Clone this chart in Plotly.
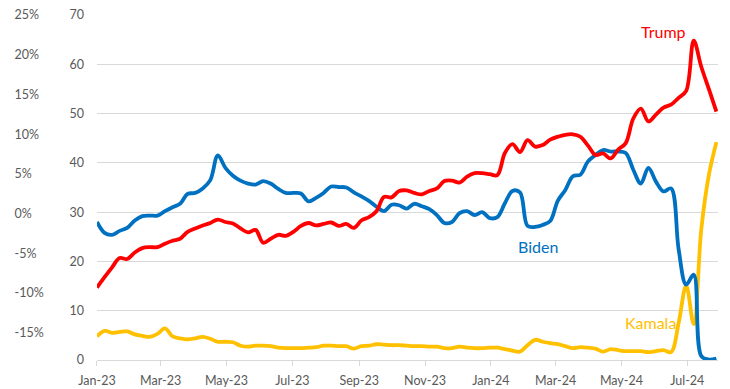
import pandas as pd
import plotly.graph_objects as go

# Weekly dates (Sundays) from Jan 2023 to late Jul 2024
dates = pd.date_range("2023-01-01", periods=83, freq="7D")

trump = [14.7, 16.8, 18.8, 20.7, 20.5, 21.8, 22.7, 22.9, 22.9, 23.6,
         24.2, 24.6, 26.0, 26.7, 27.3, 27.8, 28.5, 28.0, 27.7, 26.7,
         25.9, 26.4, 23.8, 24.6, 25.4, 25.2, 26.0, 27.2, 27.8, 27.3,
         27.6, 27.9, 27.2, 27.6, 26.8, 28.3, 29.0, 30.2, 33.1, 33.0,
         34.3, 34.4, 33.9, 33.6, 34.3, 34.8, 36.3, 36.4, 36.0, 37.2,
         37.9, 37.9, 37.7, 37.5, 42.0, 43.8, 42.2, 44.6, 43.3, 43.6,
         44.7, 45.3, 45.7, 45.8, 45.3, 43.5, 41.6, 41.9, 40.9, 42.7,
         44.0, 49.0, 51.0, 48.4, 49.8, 51.2, 51.8, 53.2, 54.6, 64.8,
         59.5, 55.0, 50.4]

biden = [28.0, 25.8, 25.4, 26.2, 26.8, 28.3, 29.2, 29.3, 29.3, 30.2,
         31.0, 31.7, 33.7, 33.9, 34.8, 36.5, 41.5, 39.0, 37.4, 36.4,
         35.8, 35.6, 36.3, 35.8, 34.7, 33.9, 33.9, 33.8, 32.2, 32.9,
         33.9, 35.2, 35.1, 35.0, 34.0, 33.2, 32.3, 31.1, 30.2, 31.5,
         31.4, 30.7, 31.7, 31.2, 30.6, 29.4, 27.8, 28.0, 29.8, 30.2,
         29.4, 30.0, 28.8, 29.0, 31.8, 34.3, 34.0, 27.2, 27.0, 27.4,
         28.2, 32.3, 34.5, 37.3, 37.6, 40.3, 41.6, 42.6, 42.3, 42.3,
         42.0, 38.6, 35.8, 39.0, 36.2, 34.2, 34.8, 22.5, 15.3, 17.3,
         0.8, 0.1, 0.3]

kamala = [4.8, 5.9, 5.5, 5.7, 5.8, 5.2, 4.9, 4.7, 5.3, 6.4,
          4.8, 4.4, 4.2, 4.4, 4.7, 4.3, 3.7, 3.7, 3.6, 2.9,
          2.7, 2.9, 2.9, 2.8, 2.5, 2.4, 2.4, 2.4, 2.5, 2.6,
          2.9, 2.9, 2.8, 2.8, 2.3, 2.8, 2.9, 3.2, 3.1, 3.0,
          3.0, 2.9, 2.8, 2.8, 2.7, 2.7, 2.4, 2.4, 2.7, 2.5,
          2.4, 2.4, 2.5, 2.5, 2.2, 1.9, 1.7, 3.0, 4.1, 3.7,
          3.4, 3.2, 2.8, 2.4, 2.6, 2.5, 2.3, 1.7, 2.2, 2.0,
          1.8, 1.8, 1.8, 1.6, 1.8, 2.0, 1.6, 7.5, 15.1, 7.3,
          26.5, 37.5, 44.2]

pct_ticks = [-15, -10, -5, 0, 5, 10, 15, 20, 25]
pct_labels = ["-15%", "-10%", "-5%", "0%", "5%", "10%", "15%", "20%", "25%"]
left_ticks = [0, 10, 20, 30, 40, 50, 60, 70]

FONT = "Lato"
GRAY = "#595959"

fig = go.Figure()
fig.add_trace(go.Scatter(x=dates, y=kamala, mode="lines", name="Kamala",
                         line=dict(color="#FFC000", width=3.8, shape="spline")))
fig.add_trace(go.Scatter(x=dates, y=biden, mode="lines", name="Biden",
                         line=dict(color="#0070C0", width=3.8, shape="spline")))
fig.add_trace(go.Scatter(x=dates, y=trump, mode="lines", name="Trump",
                         line=dict(color="#FF0000", width=3.8, shape="spline")))
# carrier trace for the percent axis
fig.add_trace(go.Scatter(x=[dates[0]], y=[None], yaxis="y2", showlegend=False,
                         hoverinfo="skip", mode="lines"))

fig.update_layout(
    width=730, height=389,
    margin=dict(l=5, r=12, t=15, b=29),
    plot_bgcolor="white", paper_bgcolor="white",
    showlegend=False,
    font=dict(family=FONT, size=12.5, color=GRAY),
    xaxis=dict(
        domain=[0.129, 1],
        type="date", automargin=False,
        range=["2023-01-01", "2024-07-29 12:00"],
        tick0="2023-01-01", dtick="M2", tickformat="%b-%y",
        showgrid=False, zeroline=False,
        showline=True, linecolor="#D9D9D9", linewidth=1,
        ticks="outside", ticklen=5, tickcolor="#D9D9D9",
        ticklabelstandoff=4,
        tickfont=dict(family=FONT, size=12.5, color=GRAY),
    ),
    yaxis=dict(
        range=[0, 70], tickvals=left_ticks, automargin=False,
        showgrid=True, gridcolor="#D9D9D9", gridwidth=1,
        zeroline=False, showline=False, ticks="",
        ticklabelstandoff=12,
        tickfont=dict(family=FONT, size=12.5, color=GRAY),
    ),
    yaxis2=dict(
        overlaying="y", anchor="free", side="right", position=0.012,
        automargin=False,
        range=[-18.43, 25.0], tickvals=pct_ticks, ticktext=pct_labels,
        showgrid=False, zeroline=False, showline=False, ticks="",
        tickfont=dict(family=FONT, size=12.5, color=GRAY),
    ),
    annotations=[
        dict(text="Trump", xref="paper", yref="paper", x=0.9236, y=0.952,
             xanchor="center", yanchor="middle",
             showarrow=False, font=dict(family=FONT, size=16, color="#FF0000")),
        dict(text="Biden", xref="paper", yref="paper", x=0.748, y=0.3304,
             xanchor="center", yanchor="middle",
             showarrow=False, font=dict(family=FONT, size=16, color="#0070C0")),
        dict(text="Kamala", xref="paper", yref="paper", x=0.906, y=0.1087,
             xanchor="center", yanchor="middle",
             showarrow=False, font=dict(family=FONT, size=16, color="#FFC000")),
    ],
)

fig.write_html("out.html", config={"displayModeBar": False},
               post_script="document.body.style.margin='0';")
